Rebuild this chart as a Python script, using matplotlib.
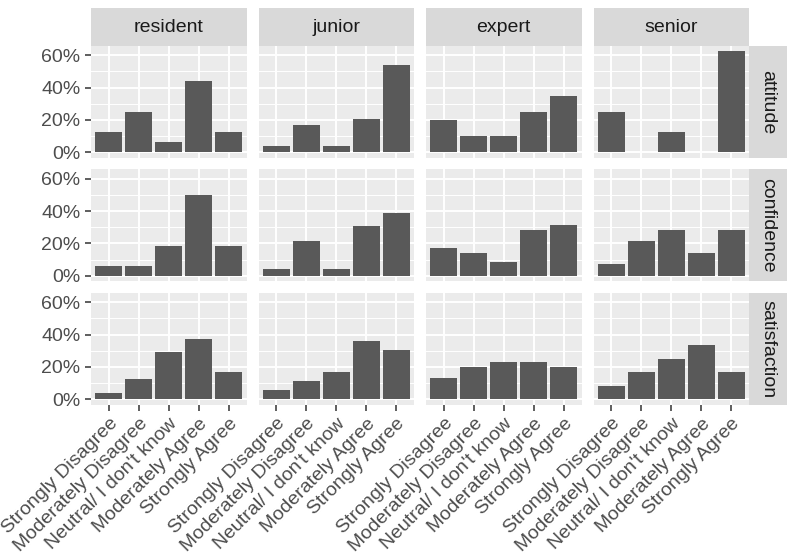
import matplotlib.pyplot as plt
from matplotlib.ticker import PercentFormatter

plt.rcParams['font.family'] = ['Liberation Sans', 'DejaVu Sans']

categories = ['Strongly Disagree', 'Moderately Disagree', "Neutral/ I don't know",
              'Moderately Agree', 'Strongly Agree']
groups = ['resident', 'junior', 'expert', 'senior']
measures = ['attitude', 'confidence', 'satisfaction']

# percent of answers, one list per group (resident, junior, expert, senior)
attitude = [[12.5, 25.0, 6.25, 43.75, 12.5],
            [4.17, 16.67, 4.17, 20.83, 54.17],
            [20.0, 10.0, 10.0, 25.0, 35.0],
            [25.0, 0.0, 12.5, 0.0, 62.5]]
confidence = [[6.25, 6.25, 18.75, 50.0, 18.75],
              [4.5, 21.5, 4.5, 31.0, 38.5],
              [17.1, 14.3, 8.6, 28.6, 31.4],
              [7.1, 21.4, 28.6, 14.3, 28.6]]
satisfaction = [[4.17, 12.5, 29.17, 37.5, 16.67],
                [5.56, 11.11, 16.67, 36.11, 30.56],
                [13.3, 20.0, 23.3, 23.3, 20.0],
                [8.33, 16.67, 25.0, 33.33, 16.67]]
data = [attitude, confidence, satisfaction]

W, H = 799, 559
fig = plt.figure(figsize=(W / 100, H / 100), dpi=100)


def box(x0, y0, x1, y1):
    return [x0 / W, 1 - y1 / H, (x1 - x0) / W, (y1 - y0) / H]


col_x = [91, 258.5, 426, 593.5]
row_y = [46, 169.5, 293]
pw, ph = 155.5, 111.5
fs = 14
ymax = max(max(max(g) for g in m) for m in data)
pad = ymax * 0.05


def strip(rect, label, rot=0):
    s = fig.add_axes(rect)
    s.set_facecolor('#D9D9D9')
    s.set_xticks([])
    s.set_yticks([])
    for sp in s.spines.values():
        sp.set_visible(False)
    s.text(0.5, 0.5, label, ha='center', va='center', rotation=rot,
           color='#1A1A1A', fontsize=fs, transform=s.transAxes)


for c, g in enumerate(groups):
    strip(box(col_x[c], 8, col_x[c] + pw, row_y[0]), g)

for r, m in enumerate(measures):
    strip(box(col_x[-1] + pw, row_y[r], 787, row_y[r] + ph), m, rot=-90)
    for c, g in enumerate(groups):
        ax = fig.add_axes(box(col_x[c], row_y[r], col_x[c] + pw, row_y[r] + ph))
        ax.set_facecolor('#EBEBEB')
        ax.bar(range(len(categories)), data[r][c], width=0.9, color='#595959', zorder=3)
        ax.set_xlim(-0.6, len(categories) - 0.4)
        ax.set_ylim(-pad, ymax + pad)
        ax.set_yticks([0, 20, 40, 60])
        ax.set_yticks([10, 30, 50], minor=True)
        ax.set_xticks(range(len(categories)))
        ax.yaxis.set_major_formatter(PercentFormatter(100, decimals=0))
        ax.grid(which='major', color='white', linewidth=1.4, zorder=1)
        ax.grid(which='minor', axis='y', color='white', linewidth=0.7, zorder=1)
        ax.set_axisbelow(True)
        for sp in ax.spines.values():
            sp.set_visible(False)
        ax.tick_params(which='minor', length=0)
        ax.tick_params(which='major', length=4.5, width=1.1, color='#333333',
                       labelcolor='#4D4D4D', labelsize=fs, pad=3)
        if c == 0:
            pass
        else:
            ax.tick_params(axis='y', length=0, labelleft=False)
        if r == len(measures) - 1:
            ax.set_xticklabels(categories, rotation=45, ha='right', va='top',
                               rotation_mode='anchor')
        else:
            ax.tick_params(axis='x', length=0, labelbottom=False)

fig.savefig('out.png', dpi=100)
